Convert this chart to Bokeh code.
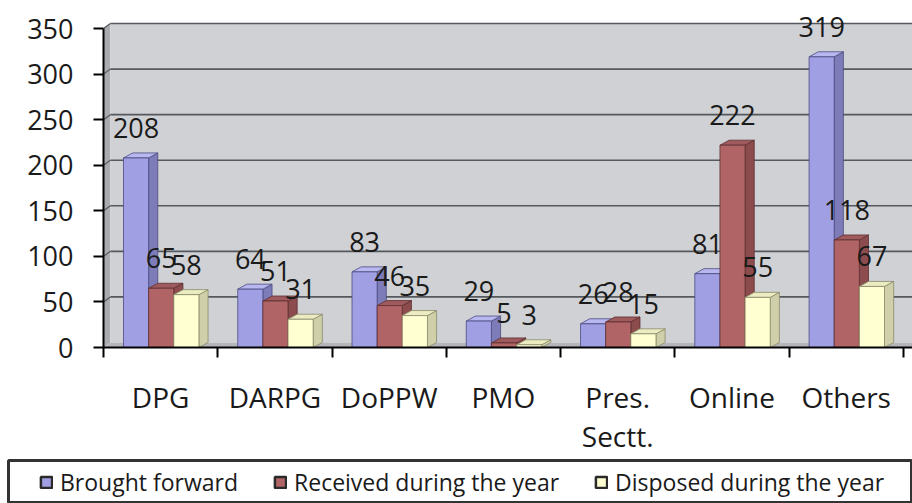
from bokeh.plotting import figure
from bokeh.layouts import column
from bokeh.models import (Range1d, FixedTicker, Legend, LegendItem, ColumnDataSource,
                          CustomJSTickFormatter)
from bokeh.core.properties import value
from bokeh.embed import file_html
from bokeh.resources import INLINE

# ---- data ----
categories = ["DPG", "DARPG", "DoPPW", "PMO", "Pres.\nSectt.", "Online", "Others"]
series_names = ["Brought forward", "Received during the year", "Disposed during the year"]
brought_forward = [208, 64, 83, 29, 26, 81, 319]
received = [65, 51, 46, 5, 28, 222, 118]
disposed = [58, 31, 35, 3, 15, 55, 67]
y_ticks = [0, 50, 100, 150, 200, 250, 300, 350]

# ---- style ----
FONT = "Open Sans"
TXT = "#1a1a1a"
front_colors = ["#a09fe4", "#b16465", "#ffffd2"]
top_colors = ["#b8b7f0", "#9e5a5c", "#ececc2"]
side_colors = ["#7d7cb8", "#8c4c4e", "#cfcfaa"]
edge_colors = ["#4a4a80", "#5e2f31", "#8a8a6a"]

X_END = 7.08
Y_TOP = 350
Y_END = 372
BAR_W = 0.22
GROUP_OFF = 0.175
DX, DY = 0.08, 5.5          # bar depth
WDX, WDY = 0.06, 5.5        # wall depth

p = figure(width=912, height=458, x_range=Range1d(0, X_END), y_range=Range1d(0, Y_END),
           output_backend="svg", toolbar_location=None,
           min_border_left=103, min_border_right=0, min_border_top=8, min_border_bottom=110)
p.outline_line_color = None
p.xgrid.visible = False
p.ygrid.visible = False
p.background_fill_color = "white"
p.border_fill_color = "white"

# ---- 3D walls ----
p.patch([0, WDX, WDX, 0], [0, WDY, Y_TOP + WDY, Y_TOP], fill_color="#a9abaf", line_color=None)
p.quad(left=[WDX], right=[X_END], bottom=[WDY], top=[Y_TOP + WDY], fill_color="#cfd1d5",
       line_color=None)
p.patch([0, X_END, X_END, WDX], [0, 0, WDY, WDY], fill_color="#b4b6ba", line_color=None)
grid_vals = [v for v in y_ticks if v > 0]
p.segment(x0=[WDX] * len(grid_vals), x1=[X_END] * len(grid_vals),
          y0=[v + WDY for v in grid_vals], y1=[v + WDY for v in grid_vals],
          line_color="#55585c", line_width=1.6)
p.segment(x0=[0] * len(grid_vals), x1=[WDX] * len(grid_vals),
          y0=grid_vals, y1=[v + WDY for v in grid_vals],
          line_color="#55585c", line_width=1.2)

# ---- 3D bars ----
all_series = [brought_forward, received, disposed]
for k, vals in enumerate(all_series):
    x0 = [i + GROUP_OFF + k * BAR_W for i in range(len(categories))]
    x1 = [a + BAR_W for a in x0]
    side_xs = [[b, b + DX, b + DX, b] for b in x1]
    side_ys = [[0, DY, v + DY, v] for v in vals]
    top_xs = [[a, b, b + DX, a + DX] for a, b in zip(x0, x1)]
    top_ys = [[v, v, v + DY, v + DY] for v in vals]
    p.patches(side_xs, side_ys, fill_color=side_colors[k], line_color=edge_colors[k], line_width=0.8)
    p.patches(top_xs, top_ys, fill_color=top_colors[k], line_color=edge_colors[k], line_width=0.8)
    p.quad(left=x0, right=x1, bottom=[0] * len(vals), top=vals,
           fill_color=front_colors[k], line_color=edge_colors[k], line_width=0.8)

# ---- value labels ----
for k, vals in enumerate(all_series):
    src = ColumnDataSource(dict(
        x=[i + GROUP_OFF + k * BAR_W + BAR_W / 2 for i in range(len(categories))],
        y=vals, t=[str(v) for v in vals]))
    p.text(x="x", y="y", text="t", source=src, text_align="center", text_baseline="middle",
           y_offset=-30, text_font=value(FONT), text_font_size="27px", text_color=TXT)

# ---- axes ----
ya = p.yaxis[0]
ya.ticker = FixedTicker(ticks=y_ticks)
ya.bounds = (0, Y_TOP)
ya.major_tick_out = 10
ya.major_tick_in = 0
ya.minor_tick_out = 0
ya.minor_tick_in = 0
ya.major_tick_line_width = 2
ya.major_tick_line_color = "black"
ya.axis_line_color = "black"
ya.axis_line_width = 2
ya.major_label_standoff = 20
ya.major_label_text_font = FONT
ya.major_label_text_font_size = "27px"
ya.major_label_text_color = TXT

xa = p.xaxis[0]
xa.ticker = FixedTicker(ticks=[i + 0.5 for i in range(len(categories))],
                        minor_ticks=list(range(len(categories) + 1)))
xa.formatter = CustomJSTickFormatter(args=dict(labels=categories),
                                     code="return labels[Math.floor(tick)];")
xa.major_tick_out = 0
xa.major_tick_in = 0
xa.minor_tick_out = 10
xa.minor_tick_in = 0
xa.minor_tick_line_width = 2
xa.minor_tick_line_color = "black"
xa.axis_line_color = "black"
xa.axis_line_width = 2
xa.major_label_standoff = 20
xa.major_label_text_font = FONT
xa.major_label_text_font_size = "28px"
xa.major_label_text_color = TXT
xa.major_label_text_line_height = 1.05

# ---- legend (separate strip) ----
lg = figure(width=912, height=45, x_range=Range1d(0, 1), y_range=Range1d(0, 1),
            output_backend="svg", toolbar_location=None, x_axis_type=None, y_axis_type=None,
            min_border_left=8, min_border_right=0, min_border_top=2, min_border_bottom=1)
lg.frame_align = False
lg.xgrid.visible = False
lg.ygrid.visible = False
lg.outline_line_color = "#333333"
lg.outline_line_width = 3
dummies = []
for k in range(3):
    # off-screen swatch renderers used only for the legend glyphs
    r = lg.quad(left=[5], right=[6], bottom=[5], top=[6], fill_color=front_colors[k],
                line_color="#2a2a2a", line_width=2.5)
    dummies.append(r)
legend = Legend(items=[LegendItem(label=n, renderers=[r]) for n, r in zip(series_names, dummies)],
                orientation="horizontal", location=(31, 4),
                label_text_font=FONT, label_text_font_size="23px", label_text_color=TXT,
                glyph_width=14, glyph_height=14, label_standoff=7, spacing=35,
                padding=4, margin=0, border_line_color=None,
                background_fill_alpha=0)
lg.add_layout(legend, "center")

open("out.html", "w").write(file_html(column(p, lg, spacing=0), INLINE))
